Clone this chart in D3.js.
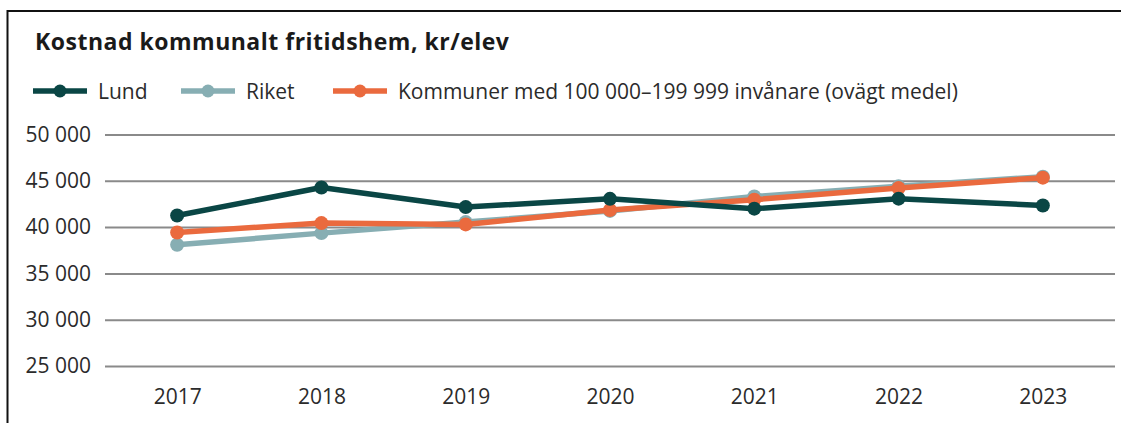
<!DOCTYPE html>
<html>
<head>
<meta charset="utf-8">
<script src="https://cdn.jsdelivr.net/npm/d3@7"></script>
<style>
  body { margin: 0; background: #fff; }
  svg { display: block; font-family: "Open Sans", sans-serif; }
</style>
</head>
<body>
<svg id="chart"></svg>
<script>
// data
const years = ["2017", "2018", "2019", "2020", "2021", "2022", "2023"];
const lund = [41250, 44280, 42160, 43050, 41990, 43070, 42340];
const riket = [38090, 39350, 40540, 41750, 43300, 44400, 45450];
const kommuner = [39420, 40430, 40290, 41850, 42960, 44210, 45340];
const yTicks = [25000, 30000, 35000, 40000, 45000, 50000];
const seriesNames = ["Lund", "Riket", "Kommuner med 100 000\u2013199 999 invånare (ovägt medel)"];

const colors = ["#0a4645", "#87aeb3", "#ea6a3e"];
const allSeries = [riket, kommuner, lund]; // draw order
const seriesColor = [colors[1], colors[2], colors[0]];

const W = 1121, H = 423;
const margin = {top: 134.5, right: 6, bottom: 57, left: 105};
const width = W - margin.left - margin.right;
const height = H - margin.top - margin.bottom;
const fs = 21;

const svg = d3.select("#chart").attr("width", W).attr("height", H);

// frame (only top and left visible)
svg.append("path")
  .attr("d", `M7.5,${H} L7.5,11 L${W},11`)
  .attr("fill", "none")
  .attr("stroke", "#111")
  .attr("stroke-width", 2);

// title
svg.append("text")
  .attr("x", 35).attr("y", 50)
  .attr("font-size", 23).attr("font-weight", 700)
  .attr("letter-spacing", 0.5)
  .attr("fill", "#1a1a1a")
  .text("Kostnad kommunalt fritidshem, kr/elev");

// legend
const legendX = [33, 181, 333];
const legend = svg.append("g");
seriesNames.forEach((name, i) => {
  const g = legend.append("g").attr("transform", `translate(${legendX[i]},91)`);
  g.append("line").attr("x1", 0).attr("x2", 54).attr("y1", 0).attr("y2", 0)
    .attr("stroke", colors[i]).attr("stroke-width", 5.5);
  g.append("circle").attr("cx", 27).attr("cy", 0).attr("r", 6.5).attr("fill", colors[i]);
  g.append("text").attr("x", 65).attr("y", 7.5).attr("font-size", fs)
    .attr("fill", "#2b2b2b").text(name);
});

const x = d3.scalePoint().domain(years).range([0, width]).padding(0.5);
const y = d3.scaleLinear().domain([25000, 50000]).range([height, 0]);

const chart = svg.append("g").attr("transform", `translate(${margin.left},${margin.top})`);

// gridlines + y labels
const yAxis = d3.axisLeft(y).tickValues(yTicks).tickSize(-width).tickPadding(14)
  .tickFormat(d => d3.format(",")(d).replace(",", " "));
chart.append("g").attr("class", "y-axis")
  .call(yAxis)
  .call(g => g.select(".domain").remove())
  .call(g => g.selectAll(".tick line").attr("stroke", "#8a8a8a").attr("stroke-width", 2))
  .call(g => g.selectAll(".tick text").attr("font-size", fs).attr("fill", "#2b2b2b")
    .attr("font-family", "Open Sans"));

const xAxis = d3.axisBottom(x).tickSize(0).tickPadding(23);
chart.append("g").attr("transform", `translate(0,${height})`)
  .call(xAxis)
  .call(g => g.select(".domain").remove())
  .call(g => g.selectAll(".tick text").attr("font-size", fs).attr("fill", "#2b2b2b")
    .attr("font-family", "Open Sans"));

const line = d3.line().x((d, i) => x(years[i])).y(d => y(d));

allSeries.forEach((vals, k) => {
  chart.append("path").datum(vals)
    .attr("d", line)
    .attr("fill", "none")
    .attr("stroke", seriesColor[k])
    .attr("stroke-width", 5.5)
    .attr("stroke-linejoin", "round");
  chart.selectAll(null).data(vals).enter().append("circle")
    .attr("cx", (d, i) => x(years[i]))
    .attr("cy", d => y(d))
    .attr("r", 7)
    .attr("fill", seriesColor[k]);
});
</script>
</body>
</html>
